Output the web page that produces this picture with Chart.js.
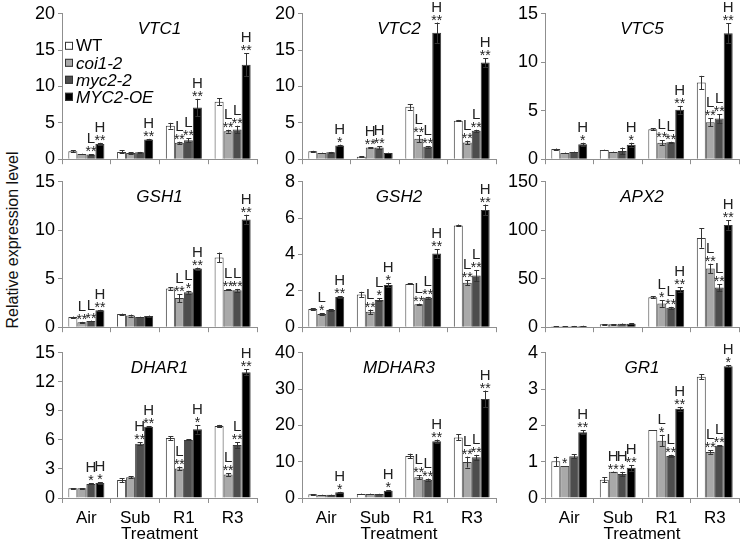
<!DOCTYPE html>
<html>
<head>
<meta charset="utf-8">
<script src="https://cdn.jsdelivr.net/npm/chart.js@4.4.1/dist/chart.umd.min.js"></script>
<style>
html, body { margin: 0; padding: 0; background: #fff; overflow: hidden; }
#wrap { position: relative; width: 742px; height: 545px; }
#wrap canvas { position: absolute; }
#ytitle {
    position: absolute; left: 13px; top: 240px;
    transform: translate(-50%, -50%) rotate(-90deg);
    font: 16px "Liberation Sans", Arial, sans-serif; white-space: nowrap; color: #111;
}
</style>
</head>
<body>
<div id="wrap"><div id="ytitle">Relative expression level</div></div>
<script>
// Категории и серии
const treatments = ['Air', 'Sub', 'R1', 'R3'];
const seriesNames = ['WT', 'coi1-2', 'myc2-2', 'MYC2-OE'];
const seriesColors = ['#ffffff', '#a9a9a9', '#4d4d4d', '#000000'];
const genes = ['VTC1', 'VTC2', 'VTC5', 'GSH1', 'GSH2', 'APX2', 'DHAR1', 'MDHAR3', 'GR1'];
const yMax = [20, 20, 15, 15, 8, 150, 15, 40, 4];
const yStep = [5, 5, 5, 5, 2, 50, 3, 10, 1];

// значения: [WT, coi1-2, myc2-2, MYC2-OE] x [Air, Sub, R1, R3]
const vtc1 = [[1.1, 1.0, 4.6, 7.9], [0.7, 0.85, 2.25, 3.85], [0.65, 0.95, 2.6, 4.1], [2.1, 2.7, 7.1, 13.0]];
const vtc1Err = [[0.1, 0.2, 0.4, 0.5], [0.05, 0.1, 0.15, 0.2], [0.05, 0.05, 0.3, 0.5], [0.15, 0.1, 1.2, 1.6]];
const vtc1Sig = [['', '', '', ''], ['', '', 'L**', 'L**'], ['L**', '', 'L**', 'L**'], ['H**', 'H**', 'H**', 'H**']];

const vtc2 = [[1.1, 0.35, 7.2, 5.3], [0.85, 1.6, 2.8, 2.3], [0.95, 1.6, 1.7, 3.9], [1.9, 0.85, 17.4, 13.3]];
const vtc2Err = [[0.05, 0.05, 0.4, 0.1], [0.05, 0.05, 0.5, 0.25], [0.05, 0.2, 0.1, 0.15], [0.1, 0.05, 1.4, 0.6]];
const vtc2Sig = [['', '', '', ''], ['', 'H**', 'L**', 'L**'], ['', 'H**', 'L**', 'L**'], ['H*', '', 'H**', 'H**']];

const vtc5 = [[1.05, 0.95, 3.1, 7.9], [0.65, 0.75, 1.7, 3.8], [0.75, 0.85, 1.75, 4.2], [1.55, 1.5, 5.1, 13.0]];
const vtc5Err = [[0.05, 0.03, 0.1, 0.7], [0.03, 0.03, 0.25, 0.4], [0.03, 0.35, 0.05, 0.45], [0.15, 0.2, 0.4, 1.0]];
const vtc5Sig = [['', '', '', ''], ['', '', 'L**', 'L**'], ['', '', 'L**', 'L**'], ['H*', 'H*', 'H**', 'H**']];

const gsh1 = [[1.05, 1.35, 4.0, 7.2], [0.5, 1.2, 3.0, 3.85], [0.65, 1.05, 3.6, 3.8], [1.75, 1.15, 6.05, 11.1]];
const gsh1Err = [[0.05, 0.05, 0.15, 0.5], [0.05, 0.1, 0.4, 0.05], [0.03, 0.03, 0.15, 0.15], [0.05, 0.05, 0.1, 0.5]];
const gsh1Sig = [['', '', '', ''], ['L**', '', 'L**', 'L**'], ['L**', '', 'L*', 'L**'], ['H**', '', 'H**', 'H**']];

const gsh2 = [[1.0, 1.8, 2.38, 5.6], [0.72, 0.85, 1.26, 2.45], [0.94, 1.5, 1.62, 2.85], [1.66, 2.32, 4.05, 6.45]];
const gsh2Err = [[0.05, 0.15, 0.03, 0.05], [0.05, 0.12, 0.04, 0.15], [0.04, 0.08, 0.05, 0.3], [0.04, 0.12, 0.25, 0.3]];
const gsh2Sig = [['', '', '', ''], ['L*', 'L**', 'L**', 'L**'], ['', 'L*', 'L**', 'L**'], ['H**', 'H*', 'H**', 'H**']];

const apx2 = [[1.0, 3.0, 31, 92], [1.0, 3.0, 24.5, 60.5], [1.1, 3.5, 20, 41], [1.3, 3.6, 38.5, 105.5]];
const apx2Err = [[0.2, 0.3, 1, 10], [0.2, 0.3, 3.5, 5], [0.2, 0.3, 1, 3.5], [0.2, 0.3, 2.5, 5]];
const apx2Sig = [['', '', '', ''], ['', '', 'L*', 'L**'], ['', '', 'L**', 'L**'], ['', '', 'H**', 'H**']];

const dhar1 = [[1.0, 1.85, 6.2, 7.45], [1.0, 2.15, 3.05, 2.43], [1.45, 5.6, 6.0, 5.48], [1.55, 7.35, 7.1, 13.0]];
const dhar1Err = [[0.02, 0.2, 0.2, 0.1], [0.02, 0.08, 0.2, 0.15], [0.05, 0.15, 0.05, 0.3], [0.08, 0.05, 0.45, 0.3]];
const dhar1Sig = [['', '', '', ''], ['', '', 'L**', 'L**'], ['H*', 'H**', '', 'L**'], ['H*', 'H**', 'H*', 'H**']];

const mdhar3 = [[1.0, 1.1, 11.6, 16.7], [0.8, 1.1, 5.7, 9.9], [0.9, 1.1, 5.05, 11.2], [1.6, 2.0, 15.6, 27.3]];
const mdhar3Err = [[0.1, 0.1, 0.6, 0.8], [0.1, 0.1, 0.5, 1.5], [0.05, 0.05, 0.3, 0.7], [0.1, 0.1, 0.5, 2.3]];
const mdhar3Sig = [['', '', '', ''], ['', '', 'L**', 'L**'], ['', '', 'L**', 'L**'], ['H*', 'H*', 'H**', 'H**']];

const gr1 = [[1.01, 0.5, 1.87, 3.34], [0.88, 0.72, 1.58, 1.27], [1.15, 0.66, 1.16, 1.44], [1.81, 0.83, 2.46, 3.63]];
const gr1Err = [[0.13, 0.07, 0, 0.07], [0, 0.01, 0.16, 0.05], [0.06, 0.06, 0.03, 0.01], [0.06, 0.08, 0.05, 0.03]];
const gr1Sig = [['', '', '', ''], ['*', 'H**', 'L*', 'L**'], ['', 'H*', 'L**', 'L**'], ['H**', 'H**', 'H**', 'H*']];

const allValues = [vtc1, vtc2, vtc5, gsh1, gsh2, apx2, dhar1, mdhar3, gr1];
const allErr = [vtc1Err, vtc2Err, vtc5Err, gsh1Err, gsh2Err, apx2Err, dhar1Err, mdhar3Err, gr1Err];
const allSig = [vtc1Sig, vtc2Sig, vtc5Sig, gsh1Sig, gsh2Sig, apx2Sig, dhar1Sig, mdhar3Sig, gr1Sig];

// Раскладка панелей
const axisX = [62, 302, 545];
const plotW = [195, 194, 194];
const plotTop = [12, 180, 351];
const plotBottom = [161, 329, 498];
const axisGray = '#8f8f8f';
const FONT = '"Liberation Sans", Arial, sans-serif';

Chart.defaults.font.family = FONT;
Chart.defaults.color = '#000';

// Плагин: планки погрешностей, значимость, название гена, легенда
const extras = {
    id: 'extras',
    afterDatasetsDraw(chart, args, opts) {
        const ctx = chart.ctx;
        const y = chart.scales.y;
        const area = chart.chartArea;
        ctx.save();
        chart.data.datasets.forEach((ds, s) => {
            const meta = chart.getDatasetMeta(s);
            meta.data.forEach((bar, i) => {
                const v = ds.data[i];
                const e = opts.err[s][i];
                const top = y.getPixelForValue(v + e);
                if (e > 0) {
                    const bot = y.getPixelForValue(Math.max(v - e, 0));
                    ctx.strokeStyle = '#333';
                    ctx.lineWidth = 1;
                    ctx.beginPath();
                    ctx.moveTo(Math.round(bar.x) + 0.5, top);
                    ctx.lineTo(Math.round(bar.x) + 0.5, bot);
                    ctx.moveTo(bar.x - 2, Math.round(top) + 0.5);
                    ctx.lineTo(bar.x + 3, Math.round(top) + 0.5);
                    ctx.moveTo(bar.x - 2, Math.round(bot) + 0.5);
                    ctx.lineTo(bar.x + 3, Math.round(bot) + 0.5);
                    ctx.stroke();
                }
                const txt = opts.sig[s][i];
                if (txt) {
                    const letter = txt.replace(/\*/g, '');
                    const stars = txt.replace(/[LH]/g, '');
                    ctx.fillStyle = '#222';
                    ctx.textAlign = 'center';
                    ctx.textBaseline = 'alphabetic';
                    ctx.font = '14px ' + FONT;
                    ctx.fillText(stars, bar.x, top + 2);
                    if (letter) {
                        ctx.font = '15px ' + FONT;
                        ctx.fillText(letter, bar.x, top - 11);
                    }
                }
            });
        });
        // название гена
        ctx.fillStyle = '#000';
        ctx.textAlign = 'center';
        ctx.textBaseline = 'middle';
        ctx.font = 'italic 17px ' + FONT;
        ctx.fillText(opts.gene, (area.left + area.right) / 2, area.top + 15);
        // легенда только на первой панели
        if (opts.legend) {
            ctx.textAlign = 'left';
            chart.data.datasets.forEach((ds, s) => {
                const cy = area.top + 32 + s * 17;
                ctx.fillStyle = ds.backgroundColor;
                ctx.fillRect(area.left + 3, cy - 4, 8, 8);
                ctx.strokeStyle = '#333';
                ctx.lineWidth = 1;
                ctx.strokeRect(area.left + 3.5, cy - 3.5, 7, 7);
                ctx.fillStyle = '#000';
                ctx.font = (s === 0 ? '' : 'italic ') + '17px ' + FONT;
                ctx.fillText(ds.label, area.left + 14, cy + 1);
            });
        }
        ctx.restore();
    }
};

function makePanel(k) {
    const col = k % 3;
    const row = Math.floor(k / 3);
    const bottomRow = row === 2;
    const plotH = plotBottom[row] - plotTop[row];
    const xH = bottomRow ? 47 : 12;
    const w = 60 + plotW[col] + 3;
    const h = 12 + plotH + xH;

    const canvas = document.createElement('canvas');
    canvas.width = w;
    canvas.height = h;
    canvas.style.width = w + 'px';
    canvas.style.height = h + 'px';
    canvas.style.left = (axisX[col] - 60) + 'px';
    canvas.style.top = (plotTop[row] - 12) + 'px';
    document.getElementById('wrap').appendChild(canvas);

    new Chart(canvas, {
        type: 'bar',
        data: {
            labels: treatments,
            datasets: seriesNames.map((name, s) => ({
                label: name,
                data: allValues[k][s],
                backgroundColor: seriesColors[s],
                borderColor: '#3a3a3a',
                borderWidth: 1,
                categoryPercentage: 0.74,
                barPercentage: 1.0
            }))
        },
        options: {
            responsive: false,
            animation: false,
            devicePixelRatio: 1,
            layout: { padding: { top: 12, right: 3, left: 0, bottom: 0 } },
            plugins: {
                legend: { display: false },
                tooltip: { enabled: false },
                extras: { err: allErr[k], sig: allSig[k], gene: genes[k], legend: k === 0 }
            },
            scales: {
                x: {
                    grid: { display: true, drawOnChartArea: false, drawTicks: true, tickLength: 5, color: axisGray, offset: true },
                    border: { color: axisGray, width: 1 },
                    ticks: { display: bottomRow, color: '#000', font: { size: 17 }, padding: 5 },
                    title: { display: bottomRow, text: 'Treatment', color: '#000', font: { size: 17 }, padding: 0 },
                    afterFit: (s) => { s.height = xH; }
                },
                y: {
                    min: 0,
                    max: yMax[k],
                    ticks: { stepSize: yStep[k], color: '#000', font: { size: 18 }, padding: 3 },
                    grid: { drawOnChartArea: false, tickLength: 4, color: axisGray },
                    border: { color: axisGray, width: 1 },
                    afterFit: (s) => { s.width = 60; }
                }
            }
        },
        plugins: [extras]
    });
}

genes.forEach((g, k) => makePanel(k));
</script>
</body>
</html>
